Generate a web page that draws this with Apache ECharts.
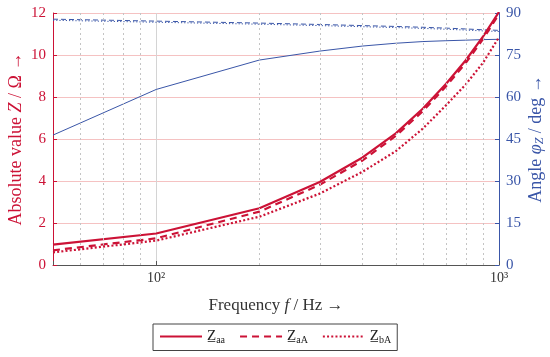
<!DOCTYPE html>
<html><head><meta charset="utf-8">
<script src="https://cdn.jsdelivr.net/npm/echarts@6/dist/echarts.min.js"></script>
<style>html,body{margin:0;padding:0;background:#fff}#c{width:550px;height:357px}</style>
</head><body><div id="c"></div>
<script>
// ---- data ----
const freqs = [50, 100, 200, 300, 400, 500, 600, 700, 800, 900, 1000];
const Z_aa = [0.97, 1.5, 2.7, 3.95, 5.12, 6.27, 7.45, 8.62, 9.75, 10.9, 12.05];
const Z_aA = [0.7, 1.27, 2.54, 3.82, 4.98, 6.15, 7.33, 8.5, 9.62, 10.78, 11.95];
const Z_bA = [0.6, 1.16, 2.3, 3.4, 4.44, 5.42, 6.5, 7.6, 8.6, 9.65, 10.85];
const phi_aa = [46.4, 62.7, 73.2, 76.4, 78.2, 79.2, 79.8, 80.1, 80.3, 80.5, 80.6];
const phi_aA = [87.8, 87.1, 86.4, 85.9, 85.5, 85.2, 84.9, 84.6, 84.3, 84.0, 83.8];
const phi_bA = [87.4, 86.7, 86.0, 85.5, 85.1, 84.8, 84.5, 84.2, 83.9, 83.6, 83.4];
const minorFreqs = [60, 70, 80, 90, 200, 300, 400, 500, 600, 700, 800, 900];
const xTickLabels = {100: '10\u00B2', 1000: '10\u00B3'};
const legendNames = ['Zaa', 'ZaA', 'ZbA'];

// ---- style ----
const FONT = 'Liberation Serif';
const RED = '#cc1236';
const BLUE = '#3a56a8';
const pair = (ys) => freqs.map((f, i) => [f, ys[i]]);

const chart = echarts.init(document.getElementById('c'), null, {renderer: 'canvas'});
chart.setOption({
  animation: false,
  backgroundColor: '#fff',
  textStyle: {fontFamily: FONT},
  grid: {left: 53, right: 51, top: 13, bottom: 92, containLabel: false, outerBoundsMode: 'none'},
  legend: {
    data: legendNames,
    left: 153, top: 324,
    itemWidth: 42, itemHeight: 14, itemGap: 14,
    padding: [5, 6, 5, 6],
    borderColor: '#444', borderWidth: 1, borderRadius: 0,
    itemStyle: {color: 'transparent', borderWidth: 0, opacity: 0},
    formatter: n => '{z|Z\u0332}{s|' + n.slice(1) + '}',
    textStyle: {
      fontFamily: FONT, color: '#222', fontSize: 15,
      rich: {
        z: {fontFamily: FONT, fontSize: 15, color: '#222'},
        s: {fontFamily: FONT, fontSize: 10, color: '#222', padding: [8, 0, 0, 0]}
      }
    }
  },
  xAxis: {
    type: 'log', logBase: 10, min: 50, max: 1000,
    name: 'Frequency {i|f} / Hz \u2192',
    nameLocation: 'middle', nameGap: 32,
    nameTextStyle: {
      fontFamily: FONT, fontSize: 17, color: '#333',
      rich: {i: {fontFamily: FONT, fontSize: 17, color: '#333', fontStyle: 'italic'}}
    },
    axisLine: {show: true, lineStyle: {color: '#555', width: 1}},
    axisTick: {show: true, inside: true, length: 4, lineStyle: {color: '#555'}},
    axisLabel: {
      fontFamily: FONT, fontSize: 14, color: '#333', margin: 6,
      formatter: v => xTickLabels[Math.round(v)] || ''
    },
    splitLine: {show: true, lineStyle: {color: '#d4d4d4', width: 1}},
    minorTick: {show: false}
  },
  yAxis: [{
    type: 'value', min: 0, max: 12, interval: 2, position: 'left',
    name: 'Absolute value {i|Z} / \u03A9 \u2192',
    nameLocation: 'middle', nameGap: 28, nameMoveOverlap: false,
    nameTextStyle: {
      fontFamily: FONT, fontSize: 18, color: RED,
      rich: {i: {fontFamily: FONT, fontSize: 18, color: RED, fontStyle: 'italic'}}
    },
    axisLine: {show: true, lineStyle: {color: RED, width: 1}},
    axisTick: {show: true, inside: true, length: 4, lineStyle: {color: RED}},
    axisLabel: {fontFamily: FONT, fontSize: 15, color: RED, margin: 7},
    splitLine: {show: true, lineStyle: {color: '#f5c2c2', width: 1}}
  }, {
    type: 'value', min: 0, max: 90, interval: 15, position: 'right',
    name: 'Angle {i|\u03C6}{s|Z} / deg \u2192',
    nameLocation: 'middle', nameGap: 27, nameMoveOverlap: false,
    nameTextStyle: {
      fontFamily: FONT, fontSize: 18, color: BLUE,
      rich: {
        i: {fontFamily: FONT, fontSize: 18, color: BLUE, fontStyle: 'italic'},
        s: {fontFamily: FONT, fontSize: 12, color: BLUE, fontStyle: 'italic', padding: [8, 0, 0, 0]}
      }
    },
    axisLine: {show: true, lineStyle: {color: BLUE, width: 1}},
    axisTick: {show: true, inside: true, length: 4, lineStyle: {color: BLUE}},
    axisLabel: {fontFamily: FONT, fontSize: 15, color: BLUE, margin: 7},
    splitLine: {show: false}
  }],
  series: [
    {
      name: 'grid', type: 'line', data: [], silent: true,
      markLine: {
        silent: true, symbol: 'none', label: {show: false},
        lineStyle: {color: '#c4c4c4', type: [2, 3], width: 1},
        data: minorFreqs.map(f => ({xAxis: f}))
      }
    },
    {
      name: 'phi_aa', type: 'line', yAxisIndex: 1, data: pair(phi_aa),
      symbol: 'none', lineStyle: {color: BLUE, width: 1}, itemStyle: {color: BLUE}
    },
    {
      name: 'phi_aA', type: 'line', yAxisIndex: 1, data: pair(phi_aA),
      symbol: 'none', lineStyle: {color: BLUE, width: 1, type: [5, 3]}, itemStyle: {color: BLUE}
    },
    {
      name: 'phi_bA', type: 'line', yAxisIndex: 1, data: pair(phi_bA),
      symbol: 'none', lineStyle: {color: BLUE, width: 1, type: [1.2, 2]}, itemStyle: {color: BLUE}
    },
    {
      name: 'ZbA', type: 'line', yAxisIndex: 0, data: pair(Z_bA),
      symbol: 'none', lineStyle: {color: RED, width: 2.2, type: [2, 2.2]}, itemStyle: {color: RED}
    },
    {
      name: 'ZaA', type: 'line', yAxisIndex: 0, data: pair(Z_aA),
      symbol: 'none', lineStyle: {color: RED, width: 2.2, type: [7, 5]}, itemStyle: {color: RED}
    },
    {
      name: 'Zaa', type: 'line', yAxisIndex: 0, data: pair(Z_aa),
      symbol: 'none', lineStyle: {color: RED, width: 2.2}, itemStyle: {color: RED}
    }
  ]
});
</script>
</body></html>
